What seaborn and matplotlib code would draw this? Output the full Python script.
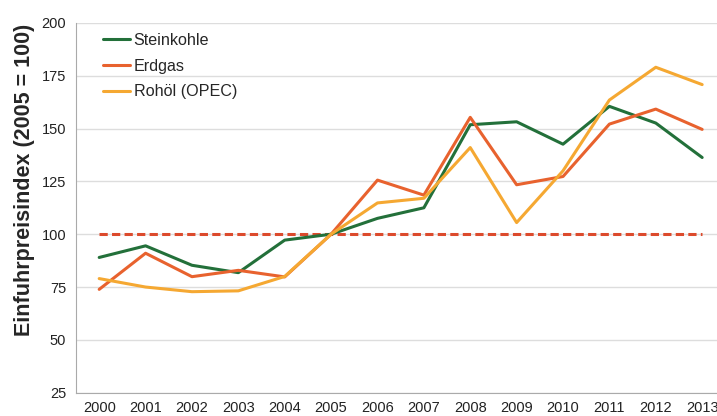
import matplotlib
matplotlib.use("Agg")
import matplotlib.pyplot as plt
import seaborn as sns
import pandas as pd
from matplotlib.ticker import FixedLocator, NullFormatter

years = list(range(2000, 2014))
steinkohle = [89, 94.5, 85.3, 81.8, 97.2, 100, 107.5, 112.5, 151.8, 153.2, 142.6, 160.5, 152.6, 136.3]
erdgas = [73.9, 91, 79.9, 82.9, 79.8, 100, 125.6, 118.5, 155.3, 123.4, 127.3, 152.1, 159.2, 149.6]
rohoel = [79, 75, 72.8, 73.2, 80, 100, 114.8, 117, 141, 105.5, 130, 163.5, 179, 170.8]
series_names = ["Steinkohle", "Erdgas", "Rohöl (OPEC)"]
baseline = 100
y_ticks = [25, 50, 75, 100, 125, 150, 175, 200]

colors = {"Steinkohle": "#23703a", "Erdgas": "#e8622e", "Rohöl (OPEC)": "#f5a832"}

sns.set_style("white")
plt.rcParams['font.family'] = ['Liberation Sans', 'DejaVu Sans']

df = pd.DataFrame({
    "Jahr": years * 3,
    "Wert": steinkohle + erdgas + rohoel,
    "Serie": [series_names[0]] * len(years) + [series_names[1]] * len(years) + [series_names[2]] * len(years),
})

fig = plt.figure(figsize=(7.17, 4.16), dpi=100)
ax = fig.add_axes([0.106, 0.056, 0.894, 0.889])

ax.hlines(baseline, years[0], years[-1], colors="#dc4a2c", linestyles=(0, (2.7, 1.4)), linewidth=2.2, zorder=2)

sns.lineplot(data=df, x="Jahr", y="Wert", hue="Serie", palette=colors,
             hue_order=series_names, linewidth=2.2, ax=ax, zorder=3)

ax.set_ylim(25, 200)
ax.set_xlim(years[0] - 0.5, years[-1] + 0.32)
ax.set_yticks(y_ticks)
ax.set_xticks(years)
ax.set_xticklabels([str(y) for y in years])
ax.xaxis.set_minor_locator(FixedLocator([y - 0.5 for y in years]))
ax.xaxis.set_minor_formatter(NullFormatter())
ax.tick_params(axis="x", which="major", length=0, labelsize=10.5, pad=6, colors="#222222")
ax.tick_params(axis="x", which="minor", length=4, color="#aaaaaa", width=1)
ax.tick_params(axis="y", length=5, color="#cccccc", labelsize=10.5, pad=2, labelcolor="#222222")

ax.grid(axis="y", color="#dddddd", linewidth=1)
ax.set_axisbelow(True)
for s in ["top", "right"]:
    ax.spines[s].set_visible(False)
ax.spines["left"].set_color("#aaaaaa")
ax.spines["bottom"].set_color("#aaaaaa")

ax.set_xlabel("")
ax.set_ylabel("Einfuhrpreisindex (2005 = 100)", fontsize=15.5, fontweight="bold", va="center")
ax.yaxis.set_label_coords(-0.081, 0.575)

leg = ax.legend(loc="upper left", bbox_to_anchor=(0.0325, 0.99), frameon=False, fontsize=11.6,
                handlelength=1.68, handletextpad=0.2, labelspacing=0.66, borderaxespad=0)

fig.savefig("out.png", dpi=100)
